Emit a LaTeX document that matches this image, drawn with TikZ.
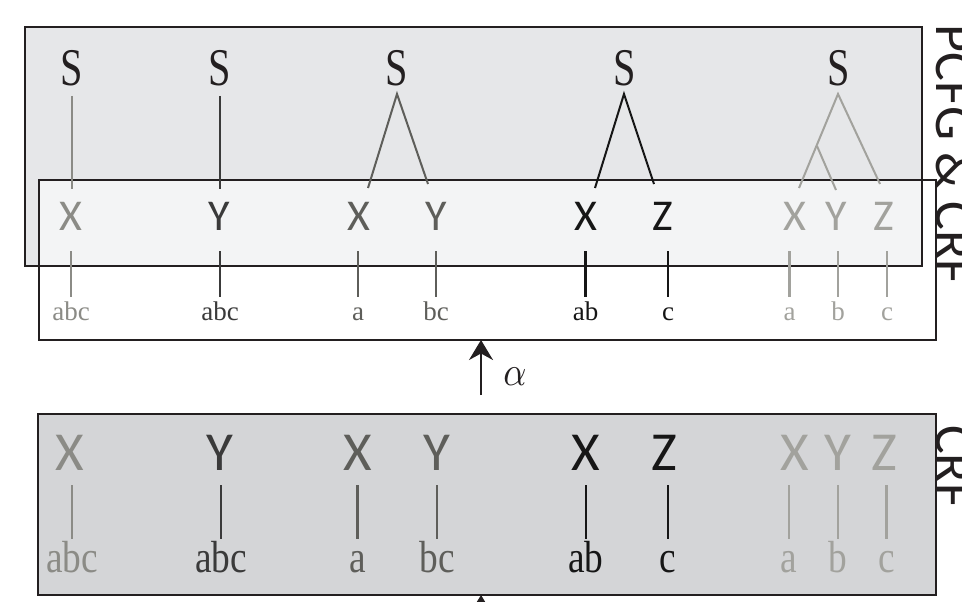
\documentclass[tikz,border=0pt]{standalone}
\usepackage{fontspec}
\setmainfont{Liberation Serif}
\newfontfamily\optfont{Carlito}
\usepackage{graphicx}
\usetikzlibrary{arrows.meta,calc}
\definecolor{cA}{HTML}{8B8B86}
\definecolor{cB}{HTML}{3A3A3A}
\definecolor{cC}{HTML}{5E5E5A}
\definecolor{cD}{HTML}{161616}
\definecolor{cE}{HTML}{A2A29D}
\definecolor{pcfgfill}{HTML}{E6E7E9}
\definecolor{crffill}{HTML}{D4D5D7}
\definecolor{frame}{HTML}{231F20}
\newcommand{\sqz}[2]{\scalebox{#1}[1]{#2}}
\begin{document}
\begin{tikzpicture}[x=1pt,y=-1pt,
  boxfill/.style={inner sep=0pt,outer sep=0pt,draw=none},
  Sn/.style={inner sep=0pt,outer sep=0pt,anchor=base,text height=35pt,text depth=0pt,text=frame,font=\fontsize{53}{60}\selectfont},
  Xm/.style={inner sep=0pt,outer sep=0pt,anchor=base,text height=28pt,text depth=0pt,font=\optfont\fontsize{44}{50}\selectfont},
  Lm/.style={inner sep=0pt,outer sep=0pt,anchor=base,text height=17pt,text depth=0pt,font=\fontsize{27}{30}\selectfont},
  Xb/.style={inner sep=0pt,outer sep=0pt,anchor=base,text height=35pt,text depth=0pt,font=\optfont\fontsize{55}{60}\selectfont},
  Lb/.style={inner sep=0pt,outer sep=0pt,anchor=base,text height=32pt,text depth=0pt,font=\fontsize{45}{52}\selectfont},
  tl/.style={line width=2pt},
  vl/.style={line width=2.2pt},
  side/.style={inner sep=0pt,outer sep=0pt,rotate=-90,anchor=base west,text=frame,font=\optfont\fontsize{54}{60}\selectfont},
]
\useasboundingbox (0,0) rectangle (962,602);
\clip (0,0) rectangle (962,602);

% boxes
\node[boxfill,fill=pcfgfill,minimum width=897pt,minimum height=239pt] (pcfg) at (473.5,146.5) {};
\node[boxfill,fill=white,fill opacity=0.55,minimum width=897pt,minimum height=160pt] (mid) at (487.5,260) {};
\node[boxfill,fill=crffill,minimum width=898pt,minimum height=181pt] (bot) at (487,504.5) {};
\draw[line width=2.4pt,frame] (pcfg.north west) rectangle (pcfg.south east);
\draw[line width=2pt,frame] (mid.north west) rectangle (mid.south east);
\draw[line width=2.4pt,frame] (bot.north west) rectangle (bot.south east);

% side labels
\node[side] (lab1) at (936.5,25) {PCFG \& CRF};
\node[side] (lab2) at (936.5,425) {CRF};

% top S nodes
\node[Sn] (s1) at (71.5,85) {\sqz{0.76}{S}};
\node[Sn] (s2) at (219.5,85) {\sqz{0.76}{S}};
\node[Sn] (s3) at (397,85) {\sqz{0.76}{S}};
\node[Sn] (s4) at (624.5,85) {\sqz{0.76}{S}};
\node[Sn] (s5) at (838.5,85) {\sqz{0.76}{S}};

% middle letters
\node[Xm,text=cA] (x1) at (70.5,230) {X};
\node[Xm,text=cB] (y2) at (219.5,230) {Y};
\node[Xm,text=cC] (x3) at (359,230) {X};
\node[Xm,text=cC] (y3) at (436,230) {Y};
\node[Xm,text=cD] (x4) at (586,230) {X};
\node[Xm,text=cD] (z4) at (663,230) {Z};
\node[Xm,text=cE] (x5) at (794.5,230) {X};
\node[Xm,text=cE] (y5) at (836.5,230) {Y};
\node[Xm,text=cE] (z5) at (884,230) {Z};

% middle labels
\node[Lm,text=cA] (m1) at (71,320) {abc};
\node[Lm,text=cB] (m2) at (220,320) {abc};
\node[Lm,text=cC] (m3a) at (358,320) {a};
\node[Lm,text=cC] (m3b) at (436,320) {bc};
\node[Lm,text=cD] (m4a) at (585.5,320) {ab};
\node[Lm,text=cD] (m4b) at (668,320) {c};
\node[Lm,text=cE] (m5a) at (789.5,320) {a};
\node[Lm,text=cE] (m5b) at (838,320) {b};
\node[Lm,text=cE] (m5c) at (887,320) {c};

% trees
\draw[tl,cA,shorten <=11pt,shorten >=13pt] (s1.south) -- (s1.south |- x1.north);
\draw[tl,cB,shorten <=11pt,shorten >=13pt] (s2.south) -- (s2.south |- y2.north);
\coordinate (a3) at (397,94);
\coordinate (e3l) at (368,188);
\coordinate (e3r) at (428,184);
\draw[tl,cC,line join=miter] (e3l) -- (a3) -- (e3r);
\coordinate (a4) at (624,94);
\coordinate (e4l) at (595,188);
\coordinate (e4r) at (654,184);
\draw[tl,cD,line join=miter] (e4l) -- (a4) -- (e4r);
\coordinate (a5) at (838,94);
\coordinate (e5l) at (799,188);
\coordinate (e5r) at (880,184);
\coordinate (b5) at (817,146);
\coordinate (e5m) at (836,190);
\draw[tl,cE,line join=miter] (e5l) -- (a5) -- (e5r);
\draw[tl,cE] (b5) -- (e5m);

% middle vertical lines
\foreach \l/\u/\c in {m1/x1/cA, m2/y2/cB, m3a/x3/cC, m3b/y3/cC, m4a/x4/cD, m4b/z4/cD, m5a/x5/cE, m5b/y5/cE, m5c/z5/cE}
  \draw[vl,\c,shorten <=21pt,shorten >=6pt] (\l.north |- \u.south) -- (\l.north);

% bottom letters
\node[Xb,text=cA] (bx1) at (70,470) {X};
\node[Xb,text=cB] (by2) at (220,470) {Y};
\node[Xb,text=cC] (bx3) at (358,470) {X};
\node[Xb,text=cC] (by3) at (437,470) {Y};
\node[Xb,text=cD] (bx4) at (586,470) {X};
\node[Xb,text=cD] (bz4) at (664,470) {Z};
\node[Xb,text=cE] (bx5) at (795,470) {X};
\node[Xb,text=cE] (by5) at (837.5,470) {Y};
\node[Xb,text=cE] (bz5) at (884.5,470) {Z};

% bottom labels
\node[Lb,text=cA] (n1) at (72,572) {\sqz{0.83}{abc}};
\node[Lb,text=cB] (n2) at (221,572) {\sqz{0.83}{abc}};
\node[Lb,text=cC] (n3a) at (357.5,572) {\sqz{0.83}{a}};
\node[Lb,text=cC] (n3b) at (437,572) {\sqz{0.83}{bc}};
\node[Lb,text=cD] (n4a) at (586,572) {\sqz{0.83}{ab}};
\node[Lb,text=cD] (n4b) at (668,572) {\sqz{0.83}{c}};
\node[Lb,text=cE] (n5a) at (789,572) {\sqz{0.83}{a}};
\node[Lb,text=cE] (n5b) at (838,572) {\sqz{0.83}{b}};
\node[Lb,text=cE] (n5c) at (886.5,572) {\sqz{0.83}{c}};

\foreach \l/\u/\c in {n1/bx1/cA, n2/by2/cB, n3a/bx3/cC, n3b/by3/cC, n4a/bx4/cD, n4b/bz4/cD, n5a/bx5/cE, n5b/by5/cE, n5c/bz5/cE}
  \draw[vl,\c,shorten <=15pt,shorten >=1pt] (\l.north |- \u.south) -- (\l.north);

% arrows
\coordinate (arrA) at (481,395);
\draw[line width=2.2pt,frame,-{Stealth[length=20pt,width=24pt]}] (arrA) -- (arrA |- mid.south);
\node[inner sep=0pt,anchor=base,text=frame] (alpha) at (515,385) {\scalebox{3.6}[4.1]{$\alpha$}};
\coordinate (arrB) at (481,660);
\draw[line width=2.2pt,frame,-{Stealth[length=20pt,width=24pt]}] (arrB) -- (arrB |- bot.south);
\end{tikzpicture}
\end{document}
